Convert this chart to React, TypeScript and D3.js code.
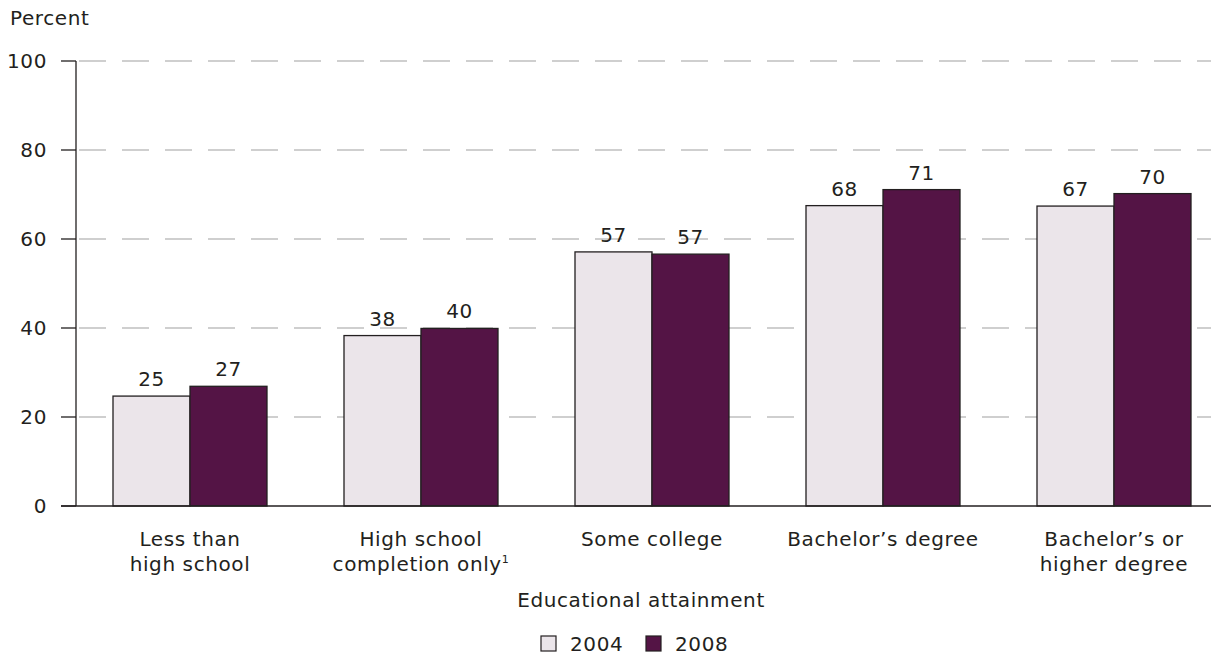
import React, { useEffect, useRef } from "react";
import * as d3 from "d3";

const categories = ["Less than|high school", "High school|completion only¹", "Some college", "Bachelor’s degree", "Bachelor’s or|higher degree"];
const years = ["2004", "2008"];
const values2004 = [24.7, 38.3, 57.1, 67.5, 67.4];
const labels2004 = ["25", "38", "57", "68", "67"];
const values2008 = [26.9, 39.9, 56.6, 71.1, 70.2];
const labels2008 = ["27", "40", "57", "71", "70"];
const yTicks = [0, 20, 40, 60, 80, 100];
const colors = ["#ebe5ea", "#541445"];

const W = 1211, H = 658;
const FONT = "'DejaVu Sans', sans-serif";
const FS = 20;
const LS = 0.6;

export default function App() {
  const ref = useRef<SVGSVGElement>(null);
  useEffect(() => {
    const svg = d3.select(ref.current);
    svg.selectAll("*").remove();
    const y = d3.scaleLinear().domain([0, 100]).range([506, 61]);
    const x = d3.scaleBand<number>().domain(d3.range(categories.length)).range([74.5, 1229.5]).paddingInner(1 / 3).paddingOuter(1 / 6);
    const xs = d3.scaleBand<string>().domain(years).range([0, x.bandwidth()]);
    const axisX = 76;

    const txt = (sel: any) => sel.attr("font-family", FONT).attr("font-size", FS).attr("letter-spacing", LS).attr("fill", "#231f20");

    svg.append("text").attr("x", 10).attr("y", 25).call(txt).text("Percent");

    // gridlines
    svg.append("g").selectAll("line").data(yTicks.filter(t => t > 0)).join("line")
      .attr("x1", axisX).attr("x2", W).attr("y1", d => y(d)).attr("y2", d => y(d))
      .attr("stroke", "#a0a0a0").attr("stroke-width", 1.2).attr("stroke-dasharray", "27,16").attr("stroke-dashoffset", -3);

    // ticks and labels
    const tg = svg.append("g");
    tg.selectAll("line").data(yTicks).join("line")
      .attr("x1", 61).attr("x2", axisX).attr("y1", d => y(d)).attr("y2", d => y(d))
      .attr("stroke", "#231f20").attr("stroke-width", 1.3);
    tg.selectAll("text").data(yTicks).join("text")
      .attr("x", 47).attr("y", d => y(d)).attr("dy", "0.35em").attr("text-anchor", "end")
      .call(txt).text(d => d);

    // bars
    const series = [values2004, values2008];
    const labs = [labels2004, labels2008];
    series.forEach((vals, si) => {
      const g = svg.append("g");
      g.selectAll("rect").data(vals).join("rect")
        .attr("x", (d, i) => (x(i) as number) + (xs(years[si]) as number))
        .attr("y", d => y(d))
        .attr("width", xs.bandwidth())
        .attr("height", d => y(0) - y(d))
        .attr("fill", colors[si]).attr("stroke", "#231f20").attr("stroke-width", 1.3);
      g.selectAll("text").data(vals).join("text")
        .attr("x", (d, i) => (x(i) as number) + (xs(years[si]) as number) + xs.bandwidth() / 2)
        .attr("y", d => y(d) - 10)
        .attr("text-anchor", "middle").call(txt)
        .text((d, i) => labs[si][i]);
    });

    // axes lines
    svg.append("line").attr("x1", axisX).attr("x2", axisX).attr("y1", y(100)).attr("y2", y(0)).attr("stroke", "#231f20").attr("stroke-width", 1.3);
    svg.append("line").attr("x1", 61).attr("x2", W).attr("y1", y(0)).attr("y2", y(0)).attr("stroke", "#231f20").attr("stroke-width", 1.3);

    // category labels
    categories.forEach((c, i) => {
      const lines = c.split("|");
      const t = svg.append("text").attr("text-anchor", "middle").call(txt);
      lines.forEach((ln, li) => {
        const cx = (x(i) as number) + x.bandwidth() / 2;
        const ts = t.append("tspan").attr("x", cx).attr("y", 546 + li * 25);
        if (ln.endsWith("¹")) {
          ts.append("tspan").text(ln.slice(0, -1));
          ts.append("tspan").attr("font-size", 11).attr("dy", -8).text("1");
        } else ts.text(ln);
      });
    });

    svg.append("text").attr("x", 641).attr("y", 607).attr("text-anchor", "middle").call(txt).text("Educational attainment");

    // legend
    const legX = [541, 646];
    years.forEach((yr, i) => {
      svg.append("rect").attr("x", legX[i]).attr("y", 636).attr("width", 15).attr("height", 15)
        .attr("fill", colors[i]).attr("stroke", "#231f20").attr("stroke-width", 1.2);
      svg.append("text").attr("x", legX[i] + 29).attr("y", 651).call(txt).text(yr);
    });
  }, []);
  return <svg ref={ref} width={W} height={H} style={{ position: "absolute", left: 0, top: 0, background: "#fff" }} />;
}
